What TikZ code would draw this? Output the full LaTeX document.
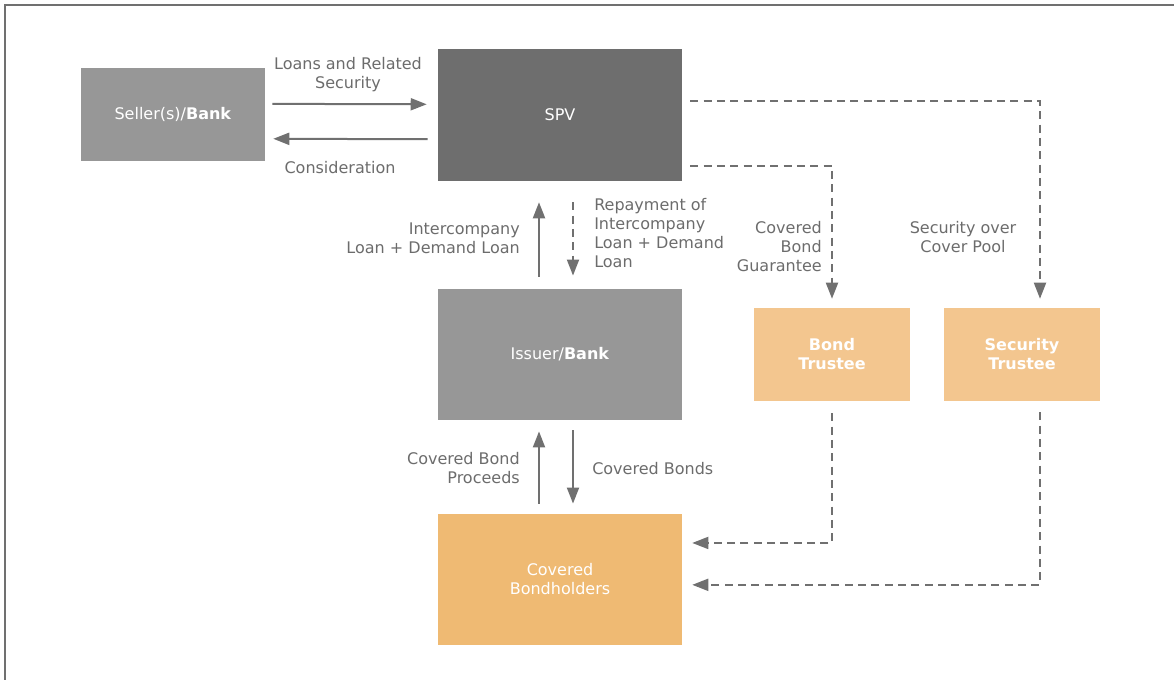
\documentclass[tikz,border=0pt]{standalone}
\usepackage{fontspec}
\setmainfont{DejaVu Sans}
\usetikzlibrary{arrows.meta}

\definecolor{boxgrey}{HTML}{979797}
\definecolor{spvgrey}{HTML}{6E6E6E}
\definecolor{trusteeorange}{HTML}{F3C68F}
\definecolor{holderorange}{HTML}{EFBA73}
\definecolor{linegrey}{HTML}{707070}
\definecolor{textgrey}{HTML}{6C6C6C}

\begin{document}
\begin{tikzpicture}[
    x=0.75pt, y=-0.75pt,
    party/.style={inner sep=0pt, align=center, text=white, font=\fontsize{12}{14.25}\selectfont},
    bigbox/.style={party, minimum width=183pt, minimum height=98.5pt},
    trustee/.style={party, fill=trusteeorange, minimum width=117pt, minimum height=69.75pt, font=\fontsize{12}{14.25}\selectfont\bfseries},
    note/.style={inner sep=0pt, text=textgrey, font=\fontsize{12}{14.25}\selectfont},
    arrow/.style={-{Triangle[length=12pt, width=9pt]}, line width=1.5pt, draw=linegrey},
    dasharrow/.style={arrow, line width=1.4pt, dash pattern=on 6pt off 4pt},
    frame/.style={draw=linegrey, line width=1.2pt}
]
    \useasboundingbox (0,0) rectangle (1174,680);
    \draw[frame] (5,680) -- (5,5) -- (1174,5);

    % Parties
    \node[party, fill=boxgrey, minimum width=138pt, minimum height=69.75pt] (seller) at (173,114.5) {Seller(s)/\textbf{Bank}};
    \node[bigbox, fill=spvgrey, minimum height=99pt] (spv) at (560,115) {SPV};
    \node[bigbox, fill=boxgrey] (issuer) at (560,354.5) {Issuer/\textbf{Bank}};
    \node[bigbox, fill=holderorange] (holders) at (560,579.5) {Covered\\Bondholders};
    \node[trustee] (btrustee) at (832,354.5) {Bond\\Trustee};
    \node[trustee] (strustee) at (1022,354.5) {Security\\Trustee};

    % Seller <-> SPV
    \draw[arrow, shorten <=5.25pt, shorten >=8.25pt] ([yshift=8pt]seller.east) -- ([yshift=8pt]spv.west);
    \draw[arrow, shorten <=7.5pt, shorten >=6pt] ([yshift=-18.2pt]spv.west) -- ([yshift=-18.2pt]seller.east);
    \node[note, align=center] (lLoans) at (348,75) {Loans and Related\\Security};
    \node[note] (lCons) at (340,168) {Consideration};

    % SPV <-> Issuer
    \draw[arrow, shorten <=9pt, shorten >=15.75pt] ([xshift=-15.75pt]issuer.north) -- ([xshift=-15.75pt]spv.south);
    \draw[dasharrow, shorten <=15.75pt, shorten >=9.75pt] ([xshift=9.75pt]spv.south) -- ([xshift=9.75pt]issuer.north);
    \node[note, anchor=east, align=right] (lInter) at (520,238.5) {Intercompany\\Loan + Demand Loan};
    \node[note, anchor=west, align=left] (lRepay) at (594,233.5) {Repayment of\\Intercompany\\Loan + Demand\\Loan};

    % Issuer <-> Bondholders
    \draw[arrow, shorten <=7.5pt, shorten >=8.25pt] ([xshift=-15.75pt]holders.north) -- ([xshift=-15.75pt]issuer.south);
    \draw[arrow, shorten <=7.5pt, shorten >=7.5pt] ([xshift=9.75pt]issuer.south) -- ([xshift=9.75pt]holders.north);
    \node[note, anchor=east, align=right] (lProc) at (520,468.5) {Covered Bond\\Proceeds};
    \node[note, anchor=west] (lBonds) at (592,469) {Covered Bonds};

    % SPV -> Trustees
    \draw[dasharrow, shorten <=6pt, shorten >=6.75pt] ([yshift=10.5pt]spv.east) -| ([xshift=13.5pt]strustee.north);
    \draw[dasharrow, shorten <=6pt, shorten >=6.75pt] ([yshift=-38.25pt]spv.east) -| (btrustee.north);
    \node[note, anchor=east, align=right] (lGuar) at (822,247) {Covered\\Bond\\Guarantee};
    \node[note, align=center] (lPool) at (963,237.5) {Security over\\Cover Pool};

    % Trustees -> Bondholders
    \draw[dasharrow, shorten <=9pt, shorten >=7.5pt] (btrustee.south) |- ([yshift=27.4pt]holders.east);
    \draw[dasharrow, shorten <=8.25pt, shorten >=7.5pt] ([xshift=13.5pt]strustee.south) |- ([yshift=-4pt]holders.east);

\end{tikzpicture}
\end{document}
